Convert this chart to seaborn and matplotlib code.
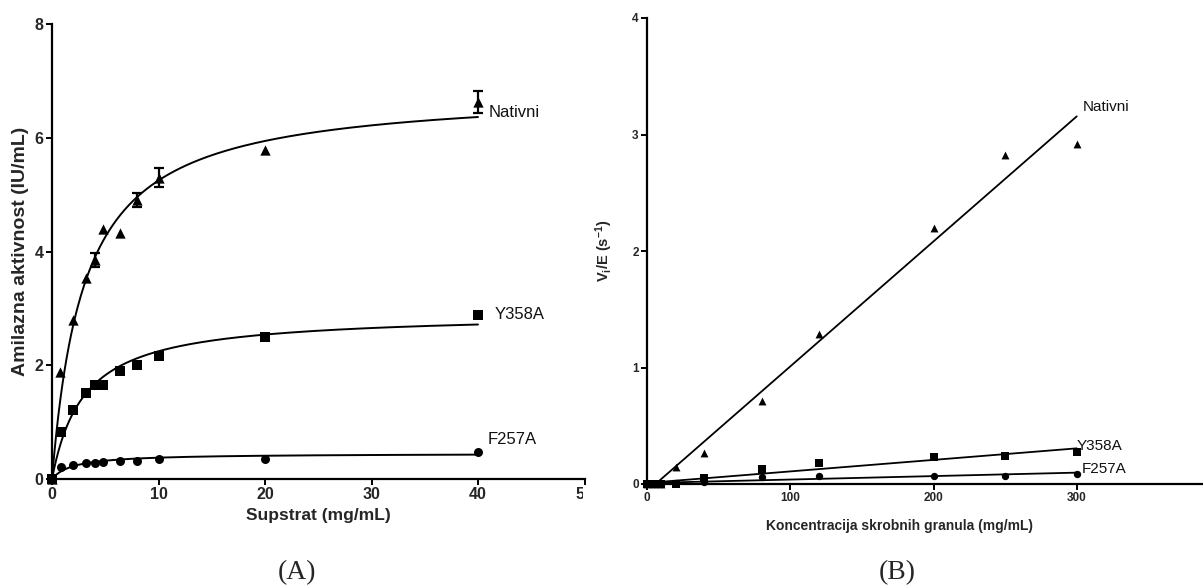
import numpy as np
import pandas as pd
import matplotlib
matplotlib.use("Agg")
import matplotlib.pyplot as plt
import seaborn as sns
from matplotlib.transforms import Bbox, TransformedBbox

# ---------------- data: panel A (Michaelis-Menten) ----------------
a_x = [0, 0.75, 2, 3.2, 4, 4.8, 6.4, 8, 10, 20, 40]
a_nativni = [0, 1.88, 2.8, 3.53, 3.85, 4.39, 4.33, 4.90, 5.30, 5.78, 6.63]
a_nativni_err = [0, 0, 0, 0, 0.13, 0, 0, 0.12, 0.17, 0, 0.20]
a_y358a_x = [0, 0.8, 2, 3.2, 4, 4.8, 6.4, 8, 10, 20, 40]
a_y358a = [0, 0.82, 1.22, 1.51, 1.65, 1.66, 1.90, 2.00, 2.16, 2.50, 2.88]
a_f257a_x = [0, 0.8, 2, 3.2, 4, 4.8, 6.4, 8, 10, 20, 40]
a_f257a = [0, 0.21, 0.25, 0.28, 0.28, 0.30, 0.32, 0.32, 0.36, 0.36, 0.47]
# fitted Michaelis-Menten parameters (Vmax, Km)
fit_vmax = [6.85, 2.92, 0.45]
fit_km = [3.05, 3.0, 2.0]

# ---------------- data: panel B (linear) ----------------
b_x = [0, 5, 10, 20, 40, 80, 120, 200, 250, 300]
b_nativni = [0, 0, 0, 0.15, 0.27, 0.71, 1.29, 2.20, 2.82, 2.92]
b_y358a = [0, 0, 0, 0.0, 0.05, 0.13, 0.18, 0.23, 0.24, 0.275]
b_f257a = [0, 0, 0, 0.01, 0.02, 0.06, 0.07, 0.07, 0.07, 0.09]

series_names = ["Nativni", "Y358A", "F257A"]
a_xticks = [0, 10, 20, 30, 40, 50]
a_yticks = [0, 2, 4, 6, 8]
b_xticks = [0, 100, 200, 300]
b_yticks = [0, 1, 2, 3, 4]

# ---------------- style ----------------
sns.set_theme(style="ticks")
plt.rcParams["font.family"] = ["Liberation Sans", "DejaVu Sans"]
plt.rcParams["mathtext.fontset"] = "custom"
plt.rcParams["mathtext.rm"] = "Liberation Sans"
plt.rcParams["mathtext.bf"] = "Liberation Sans:bold"
plt.rcParams["mathtext.it"] = "Liberation Sans:italic"

fig = plt.figure(figsize=(12.03, 5.86), dpi=100)
W, H = 1203, 586
axA = fig.add_axes([52 / W, 1 - 479 / H, 532.5 / W, 455 / H])
axB = fig.add_axes([647 / W, 1 - 484 / H, 573 / W, 466 / H])

# ---------------- panel A ----------------
grid = np.linspace(0, 40, 400)
specA = [
    (a_x, a_nativni, "^", 55),
    (a_y358a_x, a_y358a, "s", 50),
    (a_f257a_x, a_f257a, "o", 42),
]
for (xs, ys, mk, sz), V, K in zip(specA, fit_vmax, fit_km):
    curve = V * grid / (K + grid)
    sns.lineplot(x=grid, y=curve, color="black", lw=1.4, ax=axA, sort=False)
    sns.scatterplot(x=xs, y=ys, marker=mk, s=sz, color="black",
                    edgecolor="black", linewidth=0, ax=axA, zorder=3, clip_on=False)

ex = np.array(a_x)
ey = np.array(a_nativni)
ee = np.array(a_nativni_err)
m = ee > 0
axA.errorbar(ex[m], ey[m], yerr=ee[m], fmt="none", ecolor="black",
             elinewidth=1.6, capsize=3.5, capthick=1.6, zorder=4)

axA.set_xlim(0, 50)
axA.set_ylim(0, 8)
axA.set_xticks(a_xticks)
axA.set_yticks(a_yticks)
axA.set_xlabel("Supstrat (mg/mL)", fontsize=12.5, fontweight="bold", labelpad=4)
axA.set_ylabel("Amilazna aktivnost (IU/mL)", fontsize=14, fontweight="bold", labelpad=4)

labA = [(41.0, 6.45), (41.6, 2.9), (40.9, 0.70)]
for name, (lx, ly) in zip(series_names, labA):
    axA.text(lx, ly, name, fontsize=12, ha="left", va="center", color="#111111")

# ---------------- panel B ----------------
specB = [
    (b_nativni, "^", 32),
    (b_y358a, "s", 40),
    (b_f257a, "o", 28),
]
bx = np.array(b_x, float)
lgrid = np.linspace(0, 300, 50)
for ys, mk, sz in specB:
    k, c = np.polyfit(bx, np.array(ys, float), 1)
    sns.lineplot(x=lgrid, y=k * lgrid + c, color="black", lw=1.3, ax=axB, sort=False)
    sns.scatterplot(x=b_x, y=ys, marker=mk, s=sz, color="black",
                    edgecolor="black", linewidth=0, ax=axB, zorder=3, clip_on=False)

axB.set_xlim(0, 400)
axB.set_ylim(0, 4)
axB.set_xticks(b_xticks)
axB.set_yticks(b_yticks)
axB.set_xlabel("Koncentracija skrobnih granula (mg/mL)", fontsize=10, fontweight="bold")
axB.xaxis.set_label_coords((899 - 647) / 573, -0.075)
axB.set_ylabel(r"$\mathbf{V_i/E\ (s^{-1})}$", fontsize=10.5, labelpad=12)

labB = [(304, 3.24), (300, 0.33), (303.5, 0.13)]
for name, (lx, ly) in zip(series_names, labB):
    axB.text(lx, ly, name, fontsize=11, ha="left", va="center", color="#111111")

for ax, fs in ((axA, 11.5), (axB, 8.5)):
    sns.despine(ax=ax)
    for sp in ("left", "bottom"):
        ax.spines[sp].set_linewidth(1.6)
        ax.spines[sp].set_color("black")
    ax.tick_params(axis="both", direction="out", length=4, width=1.4,
                   color="black", labelsize=fs, pad=2)
    for t in ax.get_xticklabels() + ax.get_yticklabels():
        t.set_fontweight("bold")

# clip the panel A x tick labels at the panel edge (the "50" is cut)
clip = TransformedBbox(Bbox.from_extents(0, 0, 583 / W, 1), fig.transFigure)
for t in axA.get_xticklabels():
    t.set_clip_on(True)
    t.set_clip_box(clip)

fig.text(297 / W, 1 - 573 / H, "(A)", family="Liberation Serif", fontsize=20,
         ha="center", va="center")
fig.text(897 / W, 1 - 573 / H, "(B)", family="Liberation Serif", fontsize=20,
         ha="center", va="center")

fig.savefig("out.png", dpi=100)
